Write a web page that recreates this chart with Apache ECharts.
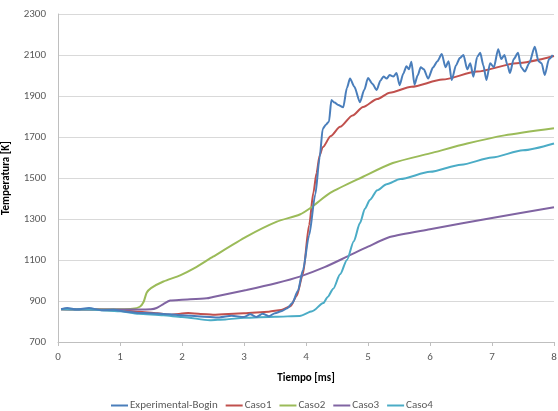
<!DOCTYPE html>
<html>
<head>
<meta charset="utf-8">
<script src="https://cdn.jsdelivr.net/npm/echarts@6/dist/echarts.min.js"></script>
<style>
  html, body { margin: 0; padding: 0; background: #fff; }
  #main { width: 558px; height: 411px; }
</style>
</head>
<body>
<div id="main"></div>
<script>
// datos: [tiempo ms, temperatura K]
var seriesNames = ['Experimental-Bogin', 'Caso1', 'Caso2', 'Caso3', 'Caso4'];
var seriesColors = ['#4a7ebb', '#c0504d', '#9bbb59', '#8064a2', '#4bacc6'];

var experimental = [
  [0.05, 860], [0.15, 866], [0.3, 858], [0.5, 866], [0.7, 855], [0.9, 857],
  [1.1, 848], [1.3, 842], [1.5, 840], [1.8, 835], [2.0, 830], [2.3, 825],
  [2.6, 820], [2.8, 828], [3.0, 822], [3.1, 835], [3.2, 822], [3.3, 838],
  [3.4, 826], [3.5, 840], [3.6, 850], [3.7, 865], [3.78, 890], [3.87, 950],
  [3.95, 1050], [4.05, 1220], [4.15, 1420], [4.22, 1600], [4.27, 1740],
  [4.32, 1760], [4.37, 1775], [4.41, 1880], [4.46, 1868], [4.52, 1856],
  [4.6, 1845], [4.66, 1940], [4.71, 1985], [4.78, 1945], [4.87, 1870],
  [4.94, 1930], [5.0, 1988], [5.07, 1960], [5.14, 1929], [5.2, 1975],
  [5.25, 1995], [5.3, 1985], [5.35, 2002], [5.41, 1995], [5.46, 2012],
  [5.51, 1953], [5.57, 2010], [5.62, 2045], [5.66, 2030], [5.7, 2067],
  [5.75, 1955], [5.8, 2000], [5.85, 2040], [5.9, 2030], [5.97, 1985],
  [6.05, 2040], [6.12, 2070], [6.19, 2105], [6.25, 2040], [6.3, 2070],
  [6.35, 1978], [6.42, 2050], [6.48, 2085], [6.54, 2100], [6.6, 2030],
  [6.65, 2060], [6.7, 1994], [6.76, 2090], [6.81, 2111], [6.86, 2050],
  [6.91, 1978], [6.97, 2060], [7.03, 2040], [7.1, 2128], [7.15, 2080],
  [7.2, 2100], [7.25, 2050], [7.29, 2012], [7.35, 2080], [7.42, 2111],
  [7.47, 2040], [7.53, 2019], [7.6, 2060], [7.69, 2140], [7.75, 2070],
  [7.8, 2060], [7.85, 2002], [7.92, 2080], [7.98, 2100]
];

var caso1 = [
  [0.05, 860], [0.5, 858], [1.0, 855], [1.3, 848], [1.6, 840], [1.8, 833],
  [2.1, 841], [2.3, 837], [2.5, 833], [3.0, 840], [3.4, 848], [3.6, 856],
  [3.75, 875], [3.85, 925], [3.95, 1030], [4.05, 1270], [4.12, 1430],
  [4.17, 1525], [4.22, 1610], [4.27, 1650], [4.4, 1705], [4.55, 1750],
  [4.75, 1805], [4.92, 1846], [5.15, 1885], [5.35, 1916], [5.7, 1945],
  [6.2, 1980], [6.76, 2019], [7.4, 2060], [8.0, 2095]
];

var caso2 = [
  [0.05, 860], [0.5, 860], [1.0, 860], [1.2, 862], [1.32, 872], [1.38, 895],
  [1.43, 940], [1.5, 963], [1.7, 995], [1.97, 1025], [2.2, 1060],
  [2.5, 1116], [3.04, 1214], [3.53, 1287], [3.9, 1322], [4.1, 1360],
  [4.39, 1427], [4.92, 1506], [5.4, 1573], [6.0, 1620], [6.6, 1668],
  [7.2, 1708], [8.0, 1743]
];

var caso3 = [
  [0.05, 860], [1.0, 858], [1.5, 860], [1.59, 866], [1.7, 885], [1.81, 902],
  [2.0, 906], [2.4, 913], [2.5, 920], [3.04, 954], [3.53, 988], [3.9, 1019],
  [4.3, 1065], [4.66, 1116], [5.0, 1165], [5.35, 1212], [6.0, 1250],
  [7.0, 1305], [8.0, 1357]
];

var caso4 = [
  [0.05, 860], [0.5, 858], [1.0, 850], [1.3, 838], [1.7, 830], [2.0, 822],
  [2.45, 806], [2.7, 810], [3.0, 818], [3.5, 823], [3.9, 827], [4.1, 850],
  [4.28, 890], [4.35, 920], [4.44, 960], [4.55, 1030], [4.66, 1100],
  [4.77, 1190], [4.87, 1280], [4.95, 1350], [5.03, 1393], [5.15, 1440],
  [5.3, 1470], [5.52, 1495], [6.0, 1530], [6.5, 1565], [7.0, 1600],
  [7.5, 1635], [8.0, 1668]
];

var allData = [experimental, caso1, caso2, caso3, caso4];

var fontFam = 'Carlito, Lato, sans-serif';

var myChart = echarts.init(document.getElementById('main'));

var option = {
  animation: false,
  textStyle: { fontFamily: fontFam },
  grid: { left: 58, right: 4, top: 14, bottom: 69, outerBoundsMode: 'none', containLabel: false },
  legend: {
    top: 395,
    left: 106,
    icon: 'rect',
    itemWidth: 17,
    itemHeight: 2,
    itemGap: 8,
    textStyle: { color: '#595959', fontSize: 11, fontFamily: fontFam, padding: [0, 0, 0, -3] },
    data: seriesNames
  },
  xAxis: {
    type: 'value',
    min: 0,
    max: 8,
    interval: 1,
    name: 'Tiempo [ms]',
    nameLocation: 'middle',
    nameGap: 31,
    nameTextStyle: { color: '#000', fontWeight: 'bold', fontSize: 11 },
    axisLine: { show: true, lineStyle: { color: '#bfbfbf' } },
    axisTick: { show: true, length: 4, lineStyle: { color: '#bfbfbf' } },
    axisLabel: { color: '#595959', fontSize: 11, margin: 10 },
    splitLine: { show: false }
  },
  yAxis: {
    type: 'value',
    min: 700,
    max: 2300,
    interval: 200,
    name: 'Temperatura [K]',
    nameLocation: 'middle',
    nameGap: 46,
    nameTextStyle: { color: '#000', fontWeight: 'bold', fontSize: 11 },
    axisLine: { show: true, lineStyle: { color: '#bfbfbf' } },
    axisTick: { show: false },
    axisLabel: {
      color: '#595959', fontSize: 11, margin: 12,
      formatter: function (v) { return String(v); }
    },
    splitLine: { show: true, lineStyle: { color: '#d9d9d9', width: 1 } }
  },
  series: seriesNames.map(function (n, i) {
    return {
      name: n,
      type: 'line',
      data: allData[i],
      showSymbol: false,
      smooth: 0.25,
      smoothMonotone: i === 0 || i === 1 || i === 4 ? 'x' : null,
      color: seriesColors[i],
      lineStyle: { width: 2, color: seriesColors[i] },
      z: i === 0 ? 3 : 2
    };
  })
};

myChart.setOption(option);
</script>
</body>
</html>
